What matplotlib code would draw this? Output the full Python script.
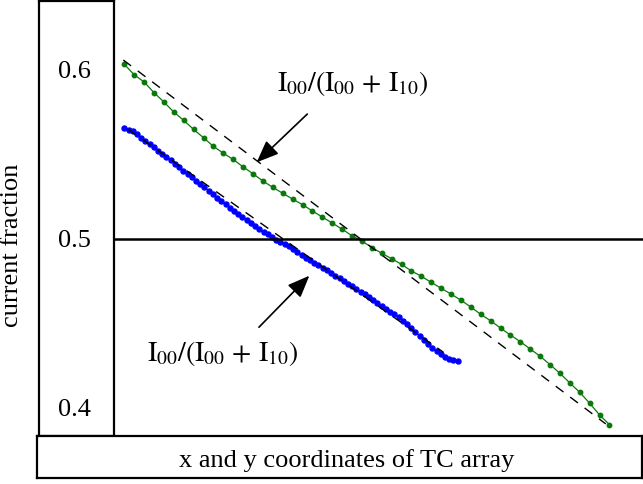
import numpy as np
import matplotlib.pyplot as plt

plt.rcParams['font.family'] = ['Liberation Serif', 'DejaVu Serif']
plt.rcParams['mathtext.fontset'] = 'stix'

# current fraction along the TC array (green: upper row, blue: lower row)
green_frac = [0.6028, 0.5966, 0.5924, 0.5861, 0.5806, 0.5747, 0.5698, 0.5645, 0.5596, 0.5545,
              0.5505, 0.5468, 0.5424, 0.5384, 0.5341, 0.5304, 0.5269, 0.5235, 0.5202, 0.5165,
              0.5129, 0.5094, 0.5058, 0.5019, 0.4988, 0.4950, 0.4916, 0.4884, 0.4851, 0.4812,
              0.4781, 0.4745, 0.4710, 0.4676, 0.4640, 0.4600, 0.4557, 0.4519, 0.4476, 0.4435,
              0.4396, 0.4353, 0.4310, 0.4261, 0.4210, 0.4153, 0.4098, 0.4034, 0.3965, 0.3908]
blue_frac = [0.5651, 0.5644, 0.5636, 0.5617, 0.5597, 0.5577, 0.5558, 0.5539, 0.5520, 0.5502,
             0.5483, 0.5464, 0.5444, 0.5422, 0.5401, 0.5381, 0.5362, 0.5344, 0.5325, 0.5305,
             0.5284, 0.5264, 0.5244, 0.5225, 0.5206, 0.5185, 0.5165, 0.5148, 0.5132, 0.5114,
             0.5096, 0.5078, 0.5061, 0.5044, 0.5027, 0.5012, 0.4996, 0.4983, 0.4969, 0.4956,
             0.4939, 0.4921, 0.4904, 0.4890, 0.4876, 0.4861, 0.4846, 0.4831, 0.4816, 0.4801,
             0.4784, 0.4768, 0.4752, 0.4736, 0.4721, 0.4705, 0.4689, 0.4674, 0.4656, 0.4639,
             0.4622, 0.4605, 0.4589, 0.4572, 0.4556, 0.4539, 0.4520, 0.4501, 0.4478, 0.4454,
             0.4430, 0.4405, 0.4381, 0.4360, 0.4339, 0.4323, 0.4306, 0.4296, 0.4291, 0.4284]
green_pos = np.linspace(0, 49, len(green_frac))
blue_pos = np.linspace(0, 33.67, len(blue_frac))

# straight-line guides (start, end)
green_fit_x = [-0.1, 48.63]
green_fit_y = [0.6053, 0.3912]
blue_fit_x = [0.34, 32.22]
blue_fit_y = [0.5647, 0.4334]

tick_vals = [0.6, 0.5, 0.4]
tick_text = ['0.6', '0.5', '0.4']
curve_label = r'$\mathrm{I}_{00}/(\mathrm{I}_{00}\,+\,\mathrm{I}_{10})$'

W, H = 643, 485
fig = plt.figure(figsize=(W / 100, H / 100), dpi=100)

ax = fig.add_axes([114 / W, (H - 437) / H, (W - 114) / W, 437 / H])
ax_left = fig.add_axes([39 / W, (H - 437) / H, 75 / W, 435 / H], sharey=ax)
ax_bot = fig.add_axes([37 / W, (H - 479) / H, 605 / W, 42 / H])

ax.set_xlim(-1.04, 52.39)
ax.set_ylim(0.3841, 0.6412)
for s in ax.spines.values():
    s.set_visible(False)
ax.tick_params(left=False, bottom=False, labelleft=False, labelbottom=False)

ax.plot(green_pos, green_frac, color='#0b780b', lw=0.9, marker='o', ms=3.2)
ax.plot(blue_pos, blue_frac, color='#0000ff', lw=0.9, marker='o', ms=3.6)
ax.plot(green_fit_x, green_fit_y, color='black', lw=1.0, dashes=(7, 6), zorder=3)
ax.plot(blue_fit_x, blue_fit_y, color='black', lw=1.0, dashes=(7, 6), zorder=3)
ax.axhline(0.5, color='black', lw=1.8)

arrow = dict(arrowstyle='-|>,head_length=1.35,head_width=0.55', color='black', lw=1.2,
             shrinkA=0, shrinkB=0)
ax.annotate('', xy=(13.37, 0.5451), xytext=(18.48, 0.5735), arrowprops=arrow)
ax.annotate('', xy=(18.69, 0.4784), xytext=(13.6, 0.4481), arrowprops=arrow)
ax.text(23.1, 0.5918, curve_label, fontsize=20, ha='center', va='center')
ax.text(9.97, 0.4335, curve_label, fontsize=20, ha='center', va='center')

# left box holding the value labels
ax_left.set_xlim(0, 1)
ax_left.tick_params(left=False, bottom=False, labelleft=False, labelbottom=False)
for s in ax_left.spines.values():
    s.set_linewidth(1.6)
for v, t in zip(tick_vals, tick_text):
    ax_left.text(0.47, v, t, fontsize=19, ha='center', va='center')

# bottom box with the axis caption
ax_bot.set_xlim(0, 1)
ax_bot.set_ylim(0, 1)
ax_bot.tick_params(left=False, bottom=False, labelleft=False, labelbottom=False)
for s in ax_bot.spines.values():
    s.set_linewidth(1.6)
ax_bot.text(0.512, 0.45, 'x and y coordinates of TC array', fontsize=19,
            ha='center', va='center')

fig.text(12 / W, 1 - 245 / H, 'current fraction', fontsize=19, rotation=90,
         ha='center', va='center')

fig.savefig('out.png', dpi=100)
